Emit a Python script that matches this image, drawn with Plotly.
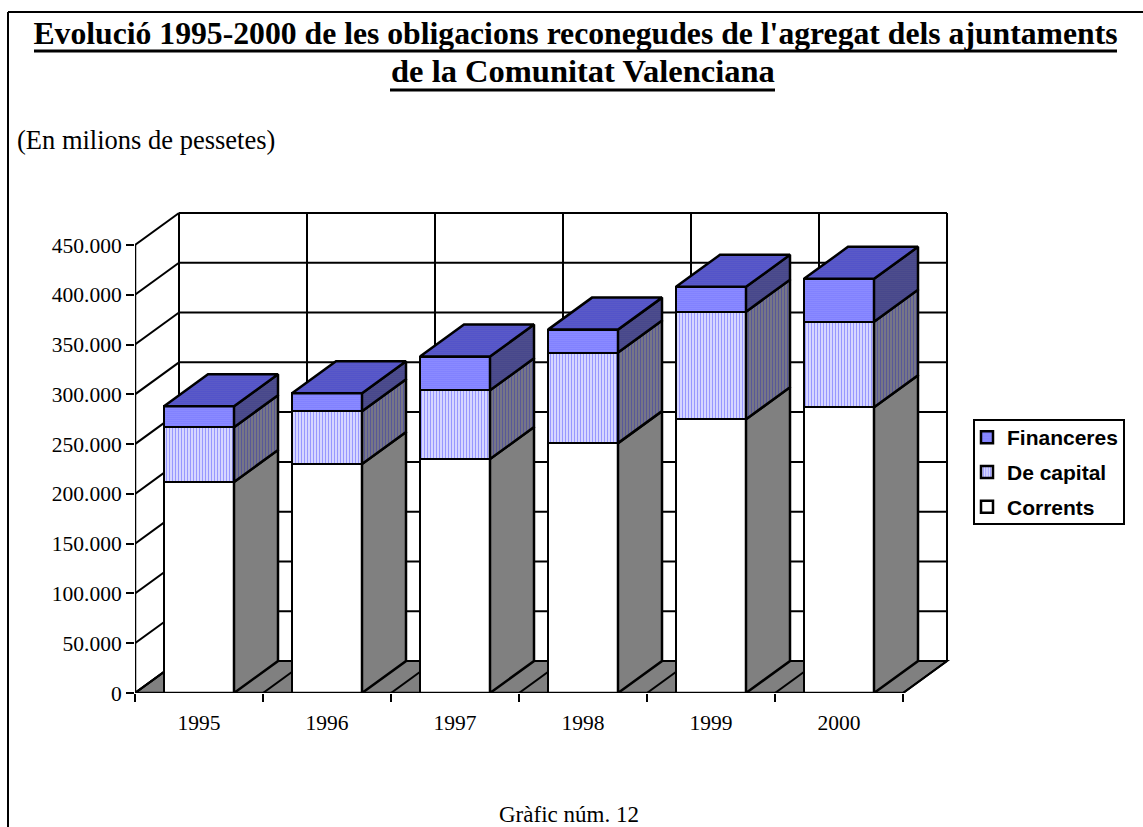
import plotly.graph_objects as go

years = ["1995", "1996", "1997", "1998", "1999", "2000"]
corrents = [212000, 230000, 235000, 251000, 275000, 287000]
capital = [55000, 53000, 69000, 91000, 108000, 86000]
financeres = [21000, 18000, 34000, 23000, 25000, 43000]
y_ticks = [0, 50000, 100000, 150000, 200000, 250000, 300000, 350000, 400000, 450000]
y_labels = ["0", "50.000", "100.000", "150.000", "200.000", "250.000", "300.000", "350.000", "400.000", "450.000"]

W, H = 1143, 827
L, BASE, FRONT_TOP = 135, 693, 245
CAT_PX = 128.0
DEPTH_X_PX, DEPTH_Y_PX = 44, 32
YMAX = 450000
PPU = (BASE - FRONT_TOP) / YMAX
DX = DEPTH_X_PX / CAT_PX
DY = DEPTH_Y_PX / PPU
PLOT_TOP, PLOT_RIGHT = 208, 952
X0 = -0.5
XEND = X0 + (PLOT_RIGHT - L) / CAT_PX
YEND = (BASE - PLOT_TOP) / PPU
BAR_W = 70 / CAT_PX
N = len(years)
XS = list(range(N))
BLACK = "#000000"


def px(x):
    return (x - L) / (PLOT_RIGHT - L)


def py(y):
    return (BASE - y) / (BASE - PLOT_TOP)


fig = go.Figure()

# front faces
series = [
    ("Corrents", corrents, dict(color="#ffffff"), 3),
    ("De capital", capital, dict(color="#ffffff", pattern=dict(shape="|", fgcolor="#3030ff", bgcolor="#ffffff", size=3, solidity=0.6)), 2),
    ("Financeres", financeres, dict(color="#8080ff", pattern=dict(shape=".", fgcolor="#2020ff", bgcolor="#a8a8ff", size=2, solidity=0.6)), 1),
]
for name, vals, marker, rank in series:
    fig.add_trace(go.Bar(x=XS, y=vals, name=name, width=BAR_W, legendgroup=name, legendrank=rank,
                         marker=dict(line=dict(color=BLACK, width=2.5), **marker)))


def poly(xs, ys, color, pattern=None):
    fig.add_trace(go.Scatter(x=xs, y=ys, mode="lines", fill="toself", fillcolor=color,
                             fillpattern=pattern, line=dict(color=BLACK, width=2.5),
                             showlegend=False, hoverinfo="skip"))


side_styles = [
    dict(color="#808080"),
    dict(color="#808080", pattern=dict(shape="|", fgcolor="#3030b0", bgcolor="#808080", size=3, solidity=0.5)),
    dict(color="#808080", pattern=dict(shape=".", fgcolor="#0a0a80", bgcolor="#606090", size=2, solidity=0.6)),
]
for i in XS:
    xr = i + BAR_W / 2
    xl = i - BAR_W / 2
    lo = 0
    for (name, vals, _, _), st in zip(series, side_styles):
        hi = lo + vals[i]
        poly([xr, xr + DX, xr + DX, xr, xr], [lo, lo + DY, hi + DY, hi, lo], st["color"], st.get("pattern"))
        lo = hi
    poly([xl, xl + DX, xr + DX, xr, xl], [lo, lo + DY, lo + DY, lo, lo], "#8080c0",
         dict(shape=".", fgcolor="#0c0ce0", bgcolor="#7070c0", size=2, solidity=0.6))

# axis lines that rest on the front plane
fig.add_trace(go.Scatter(x=[X0, X0], y=[0, YMAX], mode="lines", line=dict(color=BLACK, width=2.5),
                         cliponaxis=False, showlegend=False, hoverinfo="skip"))
fig.add_trace(go.Scatter(x=[X0, X0 + N], y=[0, 0], mode="lines", line=dict(color=BLACK, width=2.5),
                         cliponaxis=False, showlegend=False, hoverinfo="skip"))

# walls and floor, below the bars
LINE = dict(color=BLACK, width=2)
shapes = []
floor = f"M {X0} 0 L {X0 + N} 0 L {X0 + N + DX} {DY} L {X0 + DX} {DY} Z"
shapes.append(dict(type="path", path=floor, xref="x", yref="y", fillcolor="#808080", line=LINE, layer="below"))
for v in y_ticks:
    shapes.append(dict(type="line", xref="x", yref="y", x0=X0, y0=v, x1=X0 + DX, y1=v + DY, line=LINE, layer="below"))
    shapes.append(dict(type="line", xref="x", yref="y", x0=X0 + DX, y0=v + DY, x1=X0 + N + DX, y1=v + DY, line=LINE, layer="below"))
for k in range(N + 1):
    xb = X0 + k
    shapes.append(dict(type="line", xref="x", yref="y", x0=xb, y0=0, x1=xb + DX, y1=DY, line=LINE, layer="below"))
    shapes.append(dict(type="line", xref="x", yref="y", x0=xb + DX, y0=DY, x1=xb + DX, y1=YMAX + DY, line=LINE, layer="below"))

# page frame, legend box, heavy title underlines
shapes.append(dict(type="line", xref="paper", yref="paper", x0=px(8), x1=px(W), y0=py(12), y1=py(12), line=LINE))
shapes.append(dict(type="line", xref="paper", yref="paper", x0=px(8), x1=px(8), y0=py(H), y1=py(12), line=LINE))
shapes.append(dict(type="rect", xref="paper", yref="paper", x0=px(974), x1=px(1124), y0=py(524), y1=py(420), line=LINE))
shapes.append(dict(type="line", xref="paper", yref="paper", x0=px(34), x1=px(1117), y0=py(51), y1=py(51), line=dict(color=BLACK, width=3)))
shapes.append(dict(type="line", xref="paper", yref="paper", x0=px(390), x1=px(775), y0=py(90), y1=py(90), line=dict(color=BLACK, width=3)))

SERIF = "Liberation Serif"
fig.update_layout(
    width=W, height=H, autosize=False, barmode="stack", bargap=0,
    margin=dict(l=L, r=W - PLOT_RIGHT, t=PLOT_TOP, b=H - BASE, pad=0),
    paper_bgcolor="#ffffff", plot_bgcolor="#ffffff",
    font=dict(family=SERIF, color=BLACK),
    title=dict(text="<b>Evolució 1995-2000 de les obligacions reconegudes de l'agregat dels ajuntaments</b>",
               x=575.5 / W, xanchor="center", y=1 - 33 / H, yanchor="middle", font=dict(family=SERIF, size=31.7, color=BLACK)),
    xaxis=dict(range=[X0, XEND], tickmode="array", tickvals=XS, ticktext=years, ticks="", showgrid=False,
               zeroline=False, showline=False, tickfont=dict(family=SERIF, size=21.5, color=BLACK), ticklabelstandoff=14,
               minor=dict(tickmode="array", tickvals=[X0 + k for k in range(N + 1)], ticks="outside", ticklen=8, tickwidth=2, tickcolor=BLACK, showgrid=False)),
    yaxis=dict(range=[0, YEND], tickmode="array", tickvals=y_ticks, ticktext=y_labels, ticks="outside", ticklen=8, tickwidth=2,
               tickcolor=BLACK, showgrid=False, zeroline=False, showline=False, tickfont=dict(family=SERIF, size=21.5, color=BLACK)),
    legend=dict(x=px(967), xanchor="left", y=py(417), yanchor="top", traceorder="grouped", tracegroupgap=4.5,
                bgcolor="rgba(0,0,0,0)", borderwidth=0, font=dict(family="Liberation Sans", size=21, color=BLACK, weight="bold")),
    shapes=shapes,
    annotations=[
        dict(text="<b>de la Comunitat Valenciana</b>", xref="paper", yref="paper", x=px(582.5), y=py(71), xanchor="center", yanchor="middle",
             showarrow=False, font=dict(family=SERIF, size=32.5, color=BLACK)),
        dict(text="(En milions de pessetes)", xref="paper", yref="paper", x=px(15), y=py(140), xanchor="left", yanchor="middle",
             showarrow=False, font=dict(family=SERIF, size=26.5, color=BLACK)),
        dict(text="Gràfic núm. 12", xref="paper", yref="paper", x=px(569), y=py(814), xanchor="center", yanchor="middle",
             showarrow=False, font=dict(family=SERIF, size=23, color=BLACK)),
    ],
)
fig.write_html("out.html", post_script="document.body.style.margin='0';", config={"displayModeBar": False})
